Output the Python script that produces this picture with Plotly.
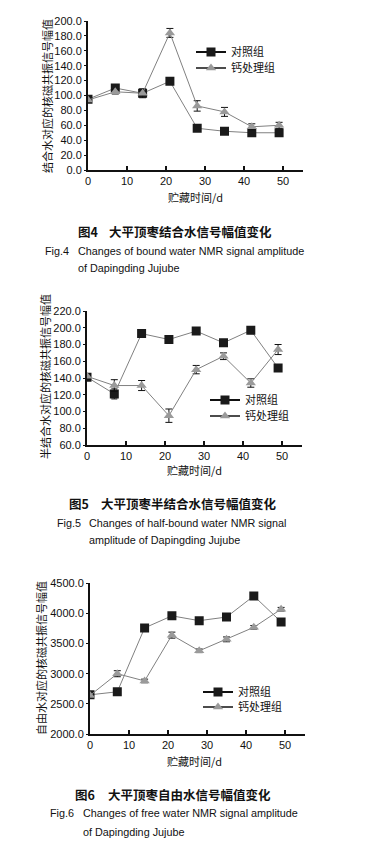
import plotly.graph_objects as go

# The page body has an 8px margin, so the figure is shifted; all pixel
# positions below are reference-page pixels and are converted with OFF.
PAGE_W, PAGE_H = 365, 854
OFF = 8
W, H = PAGE_W - OFF, PAGE_H - OFF

days = [0, 7, 14, 21, 28, 35, 42, 49]

# Fig.4 bound water
bound_ctrl = [95, 110, 103, 119, 56, 52, 50, 50]
bound_ctrl_err = [2, 3, 3, 3, 4, 2, 2, 3]
bound_ca = [94, 105, 103, 184, 86, 78, 58, 60]
bound_ca_err = [2, 3, 6, 6, 7, 6, 4, 4]

# Fig.5 half-bound water
half_ctrl = [141, 121, 193, 186, 196, 182, 197, 152]
half_ctrl_err = [3, 6, 4, 3, 2, 4, 4, 4]
half_ca = [142, 131, 131, 95, 150, 166, 134, 174]
half_ca_err = [3, 7, 6, 8, 5, 4, 5, 6]

# Fig.6 free water
free_ctrl = [2650, 2700, 3760, 3960, 3880, 3940, 4290, 3860]
free_ctrl_err = [30, 30, 30, 30, 30, 30, 30, 30]
free_ca = [2640, 3000, 2880, 3640, 3380, 3570, 3770, 4070]
free_ca_err = [30, 50, 30, 50, 30, 40, 30, 30]

series_names = ["对照组", "钙处理组"]
x_title = "贮藏时间/d"
y_titles = ["结合水对应的核磁共振信号幅值", "半结合水对应的核磁共振信号幅值", "自由水对应的核磁共振信号幅值"]

CJK = "Noto Sans CJK SC"
ARIAL = "Liberation Sans"

def px_x(p):
    return (p - OFF) / W

def px_y(p):
    return 1 - (p - OFF) / H

fig = go.Figure()

panels = [
    dict(x0=88, y_bot=170, y_top=21, yr=[0, 200], dt=20, fmt=".1f",
         ctrl=bound_ctrl, ctrl_e=bound_ctrl_err, ca=bound_ca, ca_e=bound_ca_err),
    dict(x0=87, y_bot=445, y_top=311, yr=[60, 220], dt=20, fmt=".1f",
         ctrl=half_ctrl, ctrl_e=half_ctrl_err, ca=half_ca, ca_e=half_ca_err),
    dict(x0=90, y_bot=734, y_top=583.3, yr=[2000, 4500], dt=500, fmt=".1f",
         ctrl=free_ctrl, ctrl_e=free_ctrl_err, ca=free_ca, ca_e=free_ca_err),
]

legend_rows = [(229, 52, 68), (243, 400, 416), (236, 692, 707)]

leg_idx = 0
def next_legend():
    global leg_idx
    leg_idx += 1
    return "legend" if leg_idx == 1 else "legend%d" % leg_idx

for i, p in enumerate(panels):
    n = "" if i == 0 else str(i + 1)
    xa, ya = "x" + n, "y" + n
    fig.add_trace(go.Scatter(
        x=days, y=p["ctrl"], mode="lines+markers", xaxis=xa, yaxis=ya,
        line=dict(color="#808080", width=1),
        marker=dict(symbol="square", size=9, color="#1a1a1a"),
        error_y=dict(type="data", array=p["ctrl_e"], color="#111", thickness=1, width=3),
        showlegend=False))
    fig.add_trace(go.Scatter(
        x=days, y=p["ca"], mode="lines+markers", xaxis=xa, yaxis=ya,
        line=dict(color="#808080", width=1),
        marker=dict(symbol="triangle-up", size=9, color="#9a9a9a"),
        error_y=dict(type="data", array=p["ca_e"], color="#111", thickness=1, width=3.5),
        showlegend=False))

    tx, r1, r2 = legend_rows[i]
    for name, sym, col, lw, ry in [(series_names[0], "square", "#1a1a1a", 2, r1),
                                   (series_names[1], "triangle-up", "#9a9a9a", 1.5, r2)]:
        leg = next_legend()
        fig.add_trace(go.Scatter(
            x=[None], y=[None], mode="lines+markers", xaxis=xa, yaxis=ya, name=name,
            line=dict(color="#111", width=lw),
            marker=dict(symbol=sym, size=9, color=col), legend=leg))
        fig.layout[leg] = dict(
            x=px_x(tx - 38), y=px_y(ry), xanchor="left", yanchor="middle",
            bgcolor="rgba(0,0,0,0)", itemwidth=30, borderwidth=0,
            font=dict(family=CJK, size=11, color="#111"))

    x_end = p["x0"] + 55 * 3.9
    fig.layout["xaxis" + n] = dict(
        domain=[px_x(p["x0"]), px_x(x_end)], range=[0, 55], anchor=ya,
        tickvals=[0, 10, 20, 30, 40, 50], ticks="inside", ticklen=4, tickwidth=2,
        tickcolor="#111", showline=True, linecolor="#111", linewidth=2,
        showgrid=False, zeroline=False, automargin=False,
        tickfont=dict(family=ARIAL, size=11, color="#111"))
    fig.layout["yaxis" + n] = dict(
        domain=[px_y(p["y_bot"]), px_y(p["y_top"])], range=p["yr"], anchor=xa,
        dtick=p["dt"], tick0=p["yr"][0], tickformat=p["fmt"], ticks="outside", ticklen=2,
        tickwidth=1, tickcolor="#111", showline=True, linecolor="#111", linewidth=2,
        showgrid=False, zeroline=False, automargin=False,
        tickfont=dict(family=ARIAL, size=11, color="#111"))

annotations = []

def ann(text, x, y, size=11, family=CJK, xanchor="left", angle=0, color="#111"):
    annotations.append(dict(
        text=text, x=px_x(x), y=px_y(y), xref="paper", yref="paper",
        xanchor=xanchor, yanchor="middle", showarrow=False, textangle=angle,
        font=dict(family=family, size=size, color=color)))

for yc, xc in [(197, 195), (470, 194), (761, 194)]:
    ann(x_title, xc, yc, size=11, xanchor="center")
for t, xc, yc in zip(y_titles, [47, 45, 41], [96, 377, 658]):
    ann(t, xc, yc, size=11, xanchor="center", angle=-90)

EN = 10.8
ann("<b>图4</b>", 76, 232, size=12.5)
ann("<b>大平顶枣结合水信号幅值变化</b>", 107, 232, size=12.5)
ann("Fig.4", 43, 251, size=EN, family=ARIAL)
ann("Changes of bound water NMR signal amplitude", 76, 251, size=EN, family=ARIAL)
ann("of Dapingding Jujube", 76, 268, size=EN, family=ARIAL)

ann("<b>图5</b>", 67, 503, size=12.5)
ann("<b>大平顶枣半结合水信号幅值变化</b>", 99, 503, size=12.5)
ann("Fig.5", 55, 523, size=EN, family=ARIAL)
ann("Changes of half-bound water NMR signal", 87, 523, size=EN, family=ARIAL)
ann("amplitude of Dapingding Jujube", 87, 540, size=EN, family=ARIAL)

ann("<b>图6</b>", 73, 794, size=12.5)
ann("<b>大平顶枣自由水信号幅值变化</b>", 106, 794, size=12.5)
ann("Fig.6", 48, 813, size=EN, family=ARIAL)
ann("Changes of free water NMR signal amplitude", 81, 813, size=EN, family=ARIAL)
ann("of Dapingding Jujube", 81, 832, size=EN, family=ARIAL)

fig.update_layout(
    width=W, height=H, autosize=False,
    margin=dict(l=0, r=0, t=0, b=0, autoexpand=False),
    paper_bgcolor="white", plot_bgcolor="white",
    annotations=annotations)

fig.write_html("out.html")
